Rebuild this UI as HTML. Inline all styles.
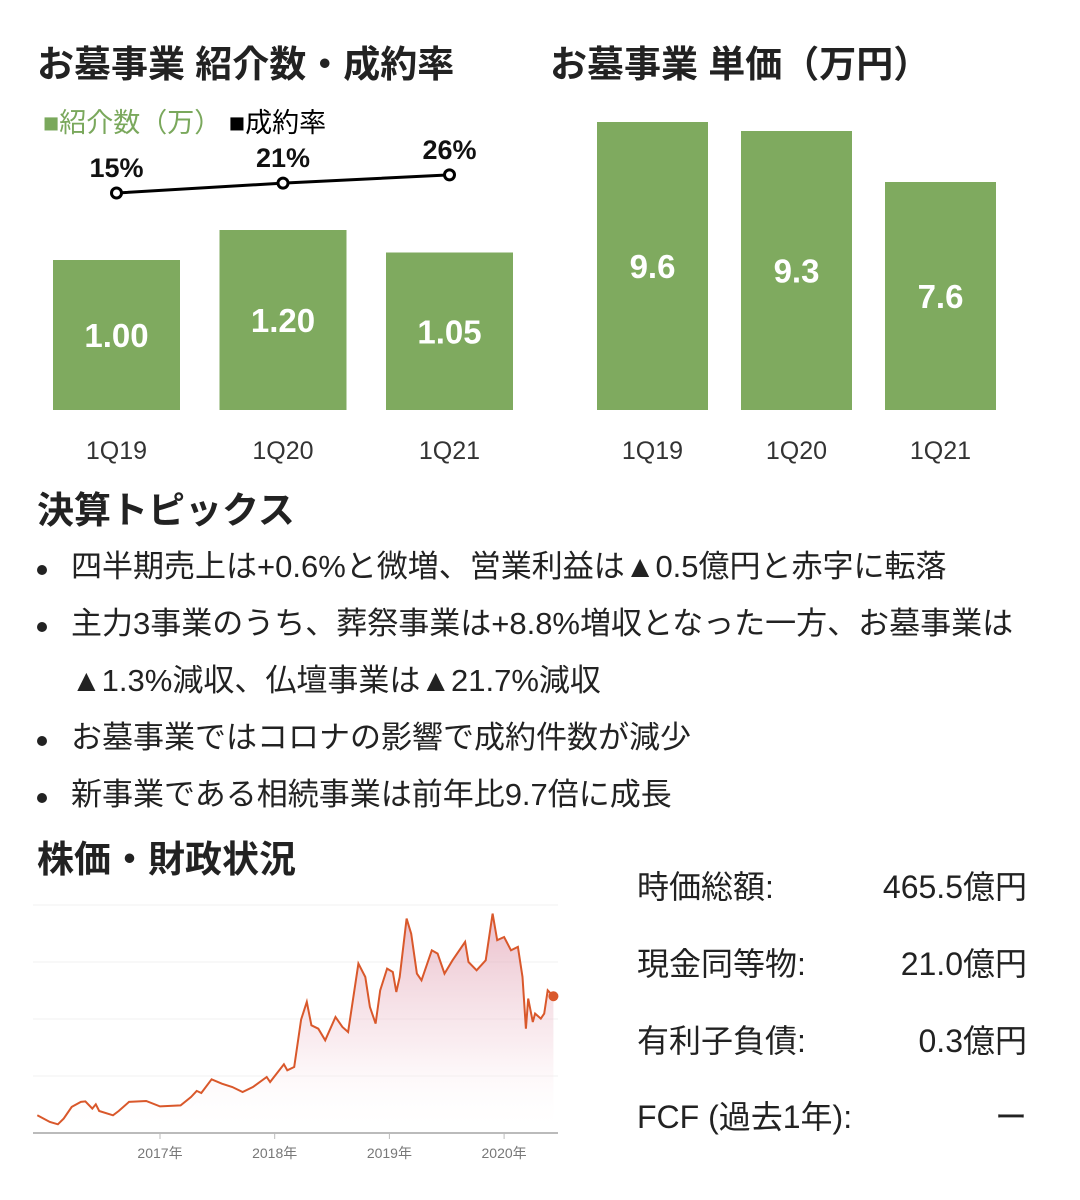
<!DOCTYPE html>
<html><head><meta charset="utf-8">
<style>
body{margin:0;width:1080px;height:1200px;background:#fff;font-family:"Liberation Sans","Noto Sans CJK JP",sans-serif;color:#222;overflow:hidden;position:relative}
.t{position:absolute;white-space:nowrap}
h2{position:absolute;margin:0;font-size:37px;font-weight:bold;white-space:nowrap;line-height:1}
.b{position:absolute;left:37px;font-size:31px;line-height:1;white-space:nowrap}
.bl::before{content:"";position:absolute;left:0;top:14px;width:10px;height:10px;border-radius:50%;background:#222}
.bl span{margin-left:34px}
.row{position:absolute;left:637px;width:390px;font-size:32px;line-height:1}
.row .v{position:absolute;right:0;top:0}
</style></head><body>
<h2 style="left:37px;top:46px">お墓事業 紹介数・成約率</h2>
<h2 style="left:550px;top:46px">お墓事業 単価（万円）</h2>
<div class="t" style="left:43px;top:101px;font-size:27px"><span style="color:#7aa85c">■紹介数（万）</span> <span style="color:#000">■成約率</span></div>
<svg id="bars" width="1080" height="480" style="position:absolute;left:0;top:0"></svg>

<h2 style="left:37px;top:492px">決算トピックス</h2>
<div class="b bl" style="top:551px"><span>四半期売上は+0.6%と微増、営業利益は▲0.5億円と赤字に転落</span></div>
<div class="b bl" style="top:608px"><span>主力3事業のうち、葬祭事業は+8.8%増収となった一方、お墓事業は</span></div>
<div class="b" style="top:665px;left:71px">▲1.3%減収、仏壇事業は▲21.7%減収</div>
<div class="b bl" style="top:722px"><span>お墓事業ではコロナの影響で成約件数が減少</span></div>
<div class="b bl" style="top:779px"><span>新事業である相続事業は前年比9.7倍に成長</span></div>

<h2 style="left:37px;top:841px">株価・財政状況</h2>
<svg id="stock" width="1080" height="1200" style="position:absolute;left:0;top:0"></svg>

<div class="row" style="top:871px">時価総額:<span class="v">465.5億円</span></div>
<div class="row" style="top:948px">現金同等物:<span class="v">21.0億円</span></div>
<div class="row" style="top:1025px">有利子負債:<span class="v">0.3億円</span></div>
<div class="row" style="top:1101px">FCF (過去1年):<span class="v">ー</span></div>

<script>
const categories=["1Q19","1Q20","1Q21"];
const referrals=[1.00,1.20,1.05];
const referralLabels=["1.00","1.20","1.05"];
const rates=[15,21,26];
const prices=[9.6,9.3,7.6];
const priceLabels=["9.6","9.3","7.6"];
const stockT=[2015.93,2016.04,2016.11,2016.16,2016.23,2016.31,2016.35,2016.41,2016.44,2016.47,2016.59,2016.64,2016.73,2016.88,2017.00,2017.18,2017.27,2017.32,2017.36,2017.45,2017.54,2017.63,2017.72,2017.81,2017.93,2017.96,2018.08,2018.11,2018.17,2018.23,2018.28,2018.32,2018.38,2018.44,2018.53,2018.59,2018.64,2018.73,2018.79,2018.83,2018.88,2018.92,2018.98,2019.03,2019.06,2019.09,2019.15,2019.19,2019.24,2019.28,2019.37,2019.42,2019.48,2019.55,2019.66,2019.69,2019.76,2019.84,2019.90,2019.94,2020.00,2020.06,2020.12,2020.16,2020.19,2020.21,2020.25,2020.27,2020.32,2020.35,2020.38,2020.43];
const stockP=[147,88,68,118,221,265,270,206,244,185,147,185,265,273,226,235,309,362,344,465,426,397,353,397,485,441,597,544,573,991,1147,941,911,809,1014,926,882,1485,1367,1103,956,1250,1441,1411,1235,1367,1882,1749,1397,1338,1602,1573,1397,1514,1676,1499,1426,1514,1926,1691,1720,1602,1632,1367,911,1176,970,1044,1000,1044,1250,1197];
const yearTicks=["2017年","2018年","2019年","2020年"];
const yearVals=[2017,2018,2019,2020];
const NS="http://www.w3.org/2000/svg";
function mk(p,tag,a){const e=document.createElementNS(NS,tag);for(const k in a)e.setAttribute(k,a[k]);p.appendChild(e);return e;}
const G="#7faa5f";
const bars=document.getElementById('bars');
const base=410;
const lx=i=>53+i*166.5, lw=127, ly=v=>base-v*150;
const rateY=r=>193-(r-15)*1.65;
const pts=[];
categories.forEach((c,i)=>{
 const r=mk(bars,'rect',{x:lx(i),y:ly(referrals[i]),width:lw,height:base-ly(referrals[i]),fill:G});
 
 
 const t=mk(bars,'text',{x:lx(i)+lw/2,y:(ly(referrals[i])+base)/2+12,'text-anchor':'middle','font-size':33,'font-weight':'bold',fill:'#fff'});t.textContent=referralLabels[i];
 
 
 const xl=mk(bars,'text',{x:lx(i)+lw/2,y:459,'text-anchor':'middle','font-size':25,fill:'#333'});xl.textContent=c;
 
 
 pts.push([lx(i)+lw/2,rateY(rates[i])]);
});
mk(bars,'polyline',{points:pts.map(p=>p.join(',')).join(' '),fill:'none',stroke:'#000','stroke-width':3});
pts.forEach((p,i)=>{
 const c=mk(bars,'circle',{cx:p[0],cy:p[1],r:5,fill:'#fff',stroke:'#000','stroke-width':3});
 
 
 const t=mk(bars,'text',{x:p[0],y:p[1]-16,'text-anchor':'middle','font-size':27,'font-weight':'bold',fill:'#111'});t.textContent=rates[i]+'%';
 
 
});
const rx=i=>597+i*144, rw=111, ry=v=>base-v*30;
categories.forEach((c,i)=>{
 const r=mk(bars,'rect',{x:rx(i),y:ry(prices[i]),width:rw,height:base-ry(prices[i]),fill:G});
 
 
 const t=mk(bars,'text',{x:rx(i)+rw/2,y:(ry(prices[i])+base)/2+12,'text-anchor':'middle','font-size':33,'font-weight':'bold',fill:'#fff'});t.textContent=priceLabels[i];
 
 
 const xl=mk(bars,'text',{x:rx(i)+rw/2,y:459,'text-anchor':'middle','font-size':25,fill:'#333'});xl.textContent=c;
 
 
});
const st=document.getElementById('stock');
const sx=t=>160+(t-2017)*114.7, sy=p=>1132-p*0.1134;
const defs=mk(st,'defs',{});
const lg=mk(defs,'linearGradient',{id:'g',x1:0,y1:0,x2:0,y2:1});
mk(lg,'stop',{offset:0,'stop-color':'#d98aa0','stop-opacity':0.55});
mk(lg,'stop',{offset:0.6,'stop-color':'#f3d3dc','stop-opacity':0.4});
mk(lg,'stop',{offset:1,'stop-color':'#fff','stop-opacity':0});
[0,1,2,3].forEach(k=>{const l=mk(st,'line',{x1:33,x2:558,y1:905+k*57,y2:905+k*57,stroke:'#f2f2f2','stroke-width':1});});
const lp=stockT.map((t,i)=>sx(t).toFixed(1)+','+sy(stockP[i]).toFixed(1));
mk(st,'polygon',{points:lp.join(' ')+' '+sx(stockT[stockT.length-1])+',1132 '+sx(stockT[0])+',1132',fill:'url(#g)'});
const ln=mk(st,'polyline',{points:lp.join(' '),fill:'none',stroke:'#d9582b','stroke-width':2});


const d=mk(st,'circle',{cx:sx(stockT[stockT.length-1]),cy:sy(stockP[stockP.length-1]),r:5,fill:'#d9582b'});


mk(st,'line',{x1:33,x2:558,y1:1133,y2:1133,stroke:'#bbb','stroke-width':2});
yearVals.forEach((y,i)=>{
 mk(st,'line',{x1:sx(y),x2:sx(y),y1:1133,y2:1139,stroke:'#bbb','stroke-width':1});
 const t=mk(st,'text',{x:sx(y),y:1158,'text-anchor':'middle','font-size':14,fill:'#777'});t.textContent=yearTicks[i];
 
 
});
</script>
</body></html>
